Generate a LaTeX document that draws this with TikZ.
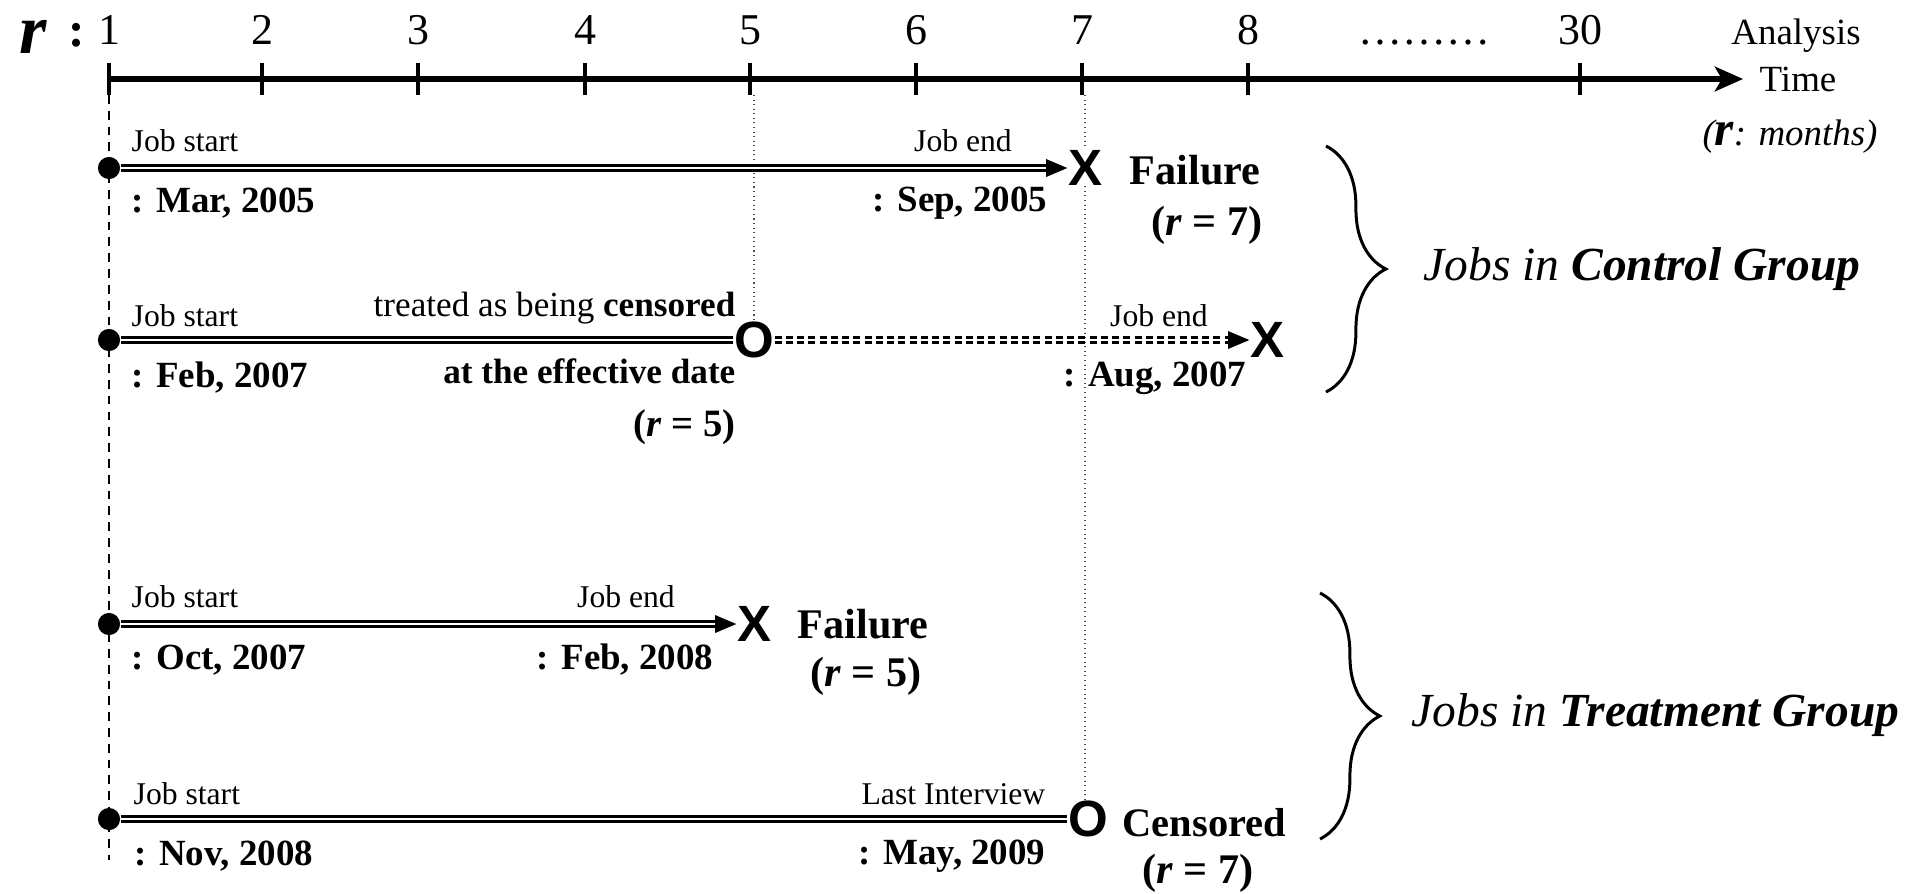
\documentclass[tikz,border=0pt]{standalone}
\usepackage{fontspec}
\setmainfont{Liberation Serif}
\newfontfamily\marksf{Liberation Sans}
\usetikzlibrary{arrows.meta,positioning,decorations.pathreplacing}

\begin{document}
\begin{tikzpicture}[
    x=0.01cm, y=-0.01cm,
    axis/.style={line width=1.8pt, -{Stealth[length=8pt,width=7pt,inset=2pt]}},
    axistick/.style={line width=1.4pt},
    num/.style={anchor=base, inner sep=0pt, font=\fontsize{12.5}{14}\selectfont},
    axlbl/.style={inner sep=0pt, font=\fontsize{10.5}{12}\selectfont},
    dot/.style={circle, fill=black, minimum size=6.3pt, inner sep=0pt},
    endmark/.style={inner sep=0pt, font=\marksf\bfseries\fontsize{14.5}{15}\selectfont},
    jobline/.style={draw=black, line width=0.75pt, double=white, double distance=0.65pt},
    cutline/.style={jobline, dash pattern=on 2pt off 1.2pt},
    tip/.style={line width=0.3pt, -{Triangle[length=6pt,width=5pt]}},
    guide/.style={densely dotted, line width=0.3pt, black!70},
    origin/.style={dash pattern=on 2.5pt off 2pt, line width=0.5pt},
    event/.style={inner sep=0pt, font=\fontsize{9}{10}\selectfont},
    note/.style={inner sep=0pt, font=\fontsize{10}{12}\selectfont},
    date/.style={inner sep=0pt, font=\bfseries\fontsize{10.5}{12}\selectfont},
    result/.style={inner sep=0pt, font=\bfseries\fontsize{12}{14}\selectfont},
    curly/.style={decorate, decoration={brace, amplitude=17pt}, line width=0.85pt},
    grp/.style={anchor=west, inner sep=0pt, font=\itshape\fontsize{13.5}{16}\selectfont}
]
\useasboundingbox (0,0) rectangle (1907,893);

% time axis
\node[anchor=base, inner sep=0pt, font=\bfseries\itshape\fontsize{20}{20}\selectfont] (rr) at (33,53) {r};
\node[anchor=base, inner sep=0pt, font=\bfseries\fontsize{14}{14}\selectfont] (rc) at (77,46) {:};
\coordinate (ax0) at (109,79);
\coordinate (ax1) at (1743,79);
\draw[axis] (ax0) -- (ax1);
\foreach \x/\n in {109/1,262/2,418/3,585/4,750/5,916/6,1082/7,1248/8,1580/30}{
    \draw[axistick] (\x,63) -- (\x,95);
    \coordinate (t\n) at (\x,95);
    \node[num] (n\n) at (\x,44) {\n};
}
\node[num] (dots) at (1424,44) {………};
\node[axlbl] (an) at (1796,36) {Analysis};
\node[axlbl] (tm) at (1798,79) {Time};
\node[axlbl] (un) at (1790,137) {\textit{(\textbf{\fontsize{14}{14}\selectfont r}: months)}};

% control group, job 1
\node[dot] (s1) at (109,168) {};
\node[endmark] (x1) at (1085,168) {X};
\coordinate[left=6pt of x1.west] (b1);
\node[event, anchor=west] (js1) at (131,141) {Job start};
\node[event] (je1) at (963,141) {Job end};
\node[date, anchor=west] (d1a) at (131,203) {: Mar, 2005};
\node[date, anchor=east] (d1b) at (1048,203) {: Sep, 2005};
\node[result, anchor=west] (f1) at (1129,170) {Failure};
\node[result] (r1) at (1207,225) {(\textit{r} = 7)};

% control group, job 2
\node[dot] (s2) at (109,340) {};
\node[endmark] (o2) at (754,340) {O};
\node[endmark] (x2) at (1267,340) {X};
\coordinate[left=6pt of x2.west] (b2);
\node[event, anchor=west] (js2) at (131,316) {Job start};
\node[note, anchor=east] (c2a) at (736,308) {treated as being \textbf{censored}};
\node[date, anchor=west] (d2a) at (131,378) {: Feb, 2007};
\node[date, font=\bfseries\fontsize{10}{12}\selectfont, anchor=east] (c2b) at (736,371) {at the effective date};
\node[result, font=\bfseries\fontsize{11}{13}\selectfont, anchor=east] (r2) at (736,427) {(\textit{r} = 5)};
\node[event] (je2) at (1159,316) {Job end};
\node[date, anchor=east] (d2b) at (1247,378) {: Aug, 2007};

% treatment group, job 3
\node[dot] (s3) at (109,624) {};
\node[endmark] (x3) at (754,624) {X};
\coordinate[left=6pt of x3.west] (b3);
\node[event, anchor=west] (js3) at (131,597) {Job start};
\node[event] (je3) at (626,597) {Job end};
\node[date, anchor=west] (d3a) at (131,660) {: Oct, 2007};
\node[date, anchor=east] (d3b) at (714,660) {: Feb, 2008};
\node[result, anchor=west] (f3) at (797,624) {Failure};
\node[result] (r3) at (866,676) {(\textit{r} = 5)};

% treatment group, job 4
\node[dot] (s4) at (109,819) {};
\node[endmark] (o4) at (1088,819) {O};
\node[event, anchor=west] (js4) at (133,794) {Job start};
\node[event, anchor=east] (li4) at (1046,794) {Last Interview};
\node[date, anchor=west] (d4a) at (134,856) {: Nov, 2008};
\node[date, anchor=east] (d4b) at (1046,856) {: May, 2009};
\node[result, font=\bfseries\fontsize{11.5}{13}\selectfont, anchor=west] (c4) at (1122,823) {Censored};
\node[result] (r4) at (1198,873) {(\textit{r} = 7)};

% guides
\coordinate (o0) at (109,860);
\draw[origin] (t1) -- (o0);
\draw[guide] (o2.north |- t5) -- (o2.north);
\draw[guide] (x1.north |- t7) -- (x1.north);
\draw[guide] (x1.south) -- (x1.south |- o4.north);

% job lines
\draw[jobline] (s1.east) -- (b1);
\draw[tip] (b1) -- (x1.west);
\draw[jobline] (s2.east) -- (o2.west);
\draw[cutline] (o2.east) -- (b2);
\draw[tip] (b2) -- (x2.west);
\draw[jobline] (s3.east) -- (b3);
\draw[tip] (b3) -- (x3.west);
\draw[jobline] (s4.east) -- (o4.west);

% groups
\coordinate (g1a) at (1326,146);
\coordinate (g1b) at (1326,392);
\draw[curly] (g1a) -- (g1b);
\node[grp] (g1) at (1423,269) {Jobs in \textbf{Control Group}};
\coordinate (g2a) at (1320,593);
\coordinate (g2b) at (1320,839);
\draw[curly] (g2a) -- (g2b);
\node[grp] (g2) at (1411,715) {Jobs in \textbf{Treatment Group}};

\end{tikzpicture}
\end{document}
